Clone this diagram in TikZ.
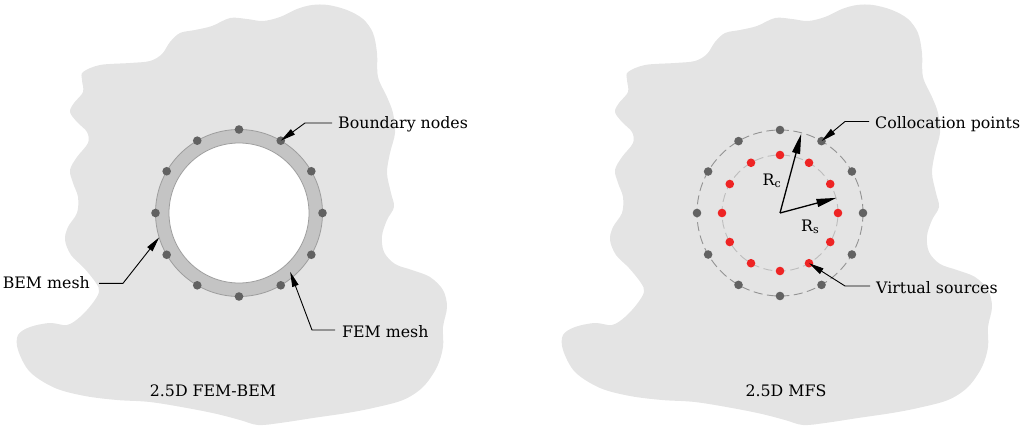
\documentclass[tikz,border=0pt]{standalone}
\usepackage{fontspec}
\setmainfont{DejaVu Serif}
\usetikzlibrary{arrows.meta,calc}

\definecolor{blobgray}{HTML}{E4E4E4}
\definecolor{bandgray}{HTML}{C4C4C4}
\definecolor{bandedge}{HTML}{9E9E9E}
\definecolor{dotgray}{HTML}{626262}
\definecolor{srcred}{HTML}{EE2424}
\definecolor{outerdash}{HTML}{939393}
\definecolor{innerdash}{HTML}{BDBDBD}

\tikzset{
  lbl/.style={inner sep=0pt, font=\fontsize{15.8}{19}\selectfont},
  dotnode/.style={circle, inner sep=0pt, minimum size=8.6pt, fill=dotgray},
  srcnode/.style={circle, inner sep=0pt, minimum size=8.6pt, fill=srcred},
  callout/.style={line width=0.9pt, -{Triangle[length=15pt,width=6.5pt]}},
  radius arrow/.style={line width=1.3pt, -{Triangle[length=20pt,width=8pt]}},
}

\begin{document}
\begin{tikzpicture}[x=1pt,y=-1pt]
\useasboundingbox (0,0) rectangle (1023,428);

% the surrounding soil domain, drawn once per panel
\foreach \dx in {0,545}{
  \begin{scope}[xshift=\dx pt]
    \fill[blobgray] plot[smooth cycle, tension=0.55] coordinates {
      (83,72) (100,65) (130,63) (150,61) (162,54) (170,42) (180,33) (195,30)
      (212,26) (230,18) (247,19) (263,21) (280,17) (297,9) (312,5) (328,5)
      (347,10) (363,19) (373,33) (377,53) (378,77) (387,97) (393,113) (395,133)
      (390,153) (387,173) (391,193) (394,207) (387,220) (382,236) (384,252)
      (395,264) (412,270) (430,277) (443,290) (447,307) (443,327) (443,347)
      (437,367) (423,387) (403,400) (373,408) (347,413) (313,418) (280,423)
      (258,425) (240,420) (217,414) (187,408) (150,402) (117,400) (85,396)
      (55,388) (30,372) (18,350) (18,335) (30,327) (50,323) (67,325) (80,317)
      (92,304) (99,292) (96,283) (84,268) (71,255) (65,240) (68,227) (77,213)
      (78,197) (73,183) (70,170) (77,157) (88,143) (87,132) (77,122) (70,112)
      (74,103) (83,92) (82,80)};
  \end{scope}
}

% ---------------- 2.5D FEM-BEM ----------------
\coordinate (cL) at (239,213);
\fill[bandgray, draw=bandedge, line width=0.8pt] (cL) circle[radius=83.5pt];
\fill[white, draw=bandedge, line width=0.8pt] (cL) circle[radius=70pt];
\foreach \a in {0,30,...,330}
  \node[dotnode] (L\a) at ($(cL)+(\a:83.5)$) {};

\node[lbl, anchor=base west] (tBN) at (338,128.5) {Boundary nodes};
\node[lbl, anchor=base east] (tBEM) at (90,288.3) {BEM mesh};
\node[lbl, anchor=base west] (tFEM) at (342,337.3) {FEM mesh};
\node[lbl, anchor=base] (tL) at (213,396) {2.5D FEM-BEM};

\coordinate (kBN) at (305,123);
\coordinate (kBEM) at (123,283.3);
\coordinate (kFEM) at (312,330);
\coordinate (pBEM) at ($(cL)+(163:83.5)$);
\coordinate (pFEM) at ($(cL)+(49:78)$);

\draw[callout] (tBN.base west) ++(-6,-5.5) -- (kBN) -- (L300.center);
\draw[callout] (tBEM.base east) ++(9,-5) -- (kBEM) -- (pBEM);
\draw[callout] (tFEM.base west) ++(-7,-7.3) -- (kFEM) -- (pFEM);

% ---------------- 2.5D MFS ----------------
\coordinate (cR) at (780,213);
\draw[outerdash, line width=0.9pt, dash pattern=on 9pt off 4.5pt] (cR) circle[radius=83pt];
\draw[innerdash, line width=0.9pt, dash pattern=on 9pt off 4.5pt] (cR) circle[radius=58pt];
\foreach \a in {0,30,...,330}{
  \node[dotnode] (C\a) at ($(cR)+(\a:83)$) {};
  \node[srcnode] (S\a) at ($(cR)+(\a:58)$) {};
}

\coordinate (pRc) at ($(cR)+(-75:82)$);
\coordinate (pRs) at ($(cR)+(-15:58.5)$);
\draw[radius arrow] (cR) -- (pRc);
\draw[radius arrow] (cR) -- (pRs);
\node[lbl, anchor=base west] (tRc) at (762.5,185) {R\textsubscript{c}};
\node[lbl, anchor=base west] (tRs) at (801,231.7) {R\textsubscript{s}};

\node[lbl, anchor=base west] (tCP) at (875,128.3) {Collocation points};
\node[lbl, anchor=base west] (tVS) at (876,293) {Virtual sources};
\node[lbl, anchor=base] (tR) at (786,396) {2.5D MFS};

\coordinate (kCP) at (845,121.5);
\coordinate (kVS) at (845,286);
\draw[callout] (tCP.base west) ++(-6,-6.8) -- (kCP) -- (C300.center);
\draw[callout] (tVS.base west) ++(-6,-7) -- (kVS) -- (S60.center);
\end{tikzpicture}
\end{document}
